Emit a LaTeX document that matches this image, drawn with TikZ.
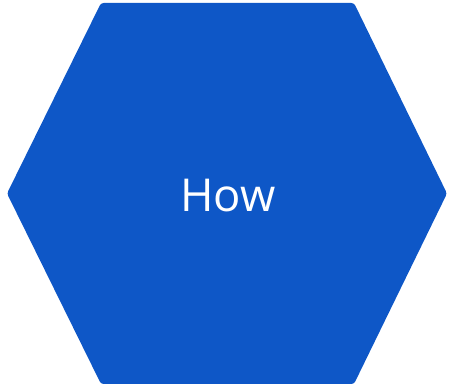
\documentclass[tikz,border=0pt]{standalone}
\usepackage{fontspec}
\setmainfont{Open Sans}
\usepackage{xcolor}
\definecolor{hexc}{HTML}{0E57C7}
\tikzset{
  hexfill/.style={fill=hexc,draw=none,rounded corners=2pt},
  lbl/.style={text=white,font=\fontsize{34}{40}\selectfont},
}
\begin{document}
\begin{tikzpicture}[x=0.75pt,y=0.75pt]
  \useasboundingbox (0,0) rectangle (449,388);
  % hexagon, wider top and bottom than a regular one
  \fill[hexfill] (101,385) -- (354,385) -- (447,194.5) -- (354,4) -- (101,4) -- (7,194.5) -- cycle;
  \node[lbl] (how) at (228,192) {How};
\end{tikzpicture}
\end{document}
